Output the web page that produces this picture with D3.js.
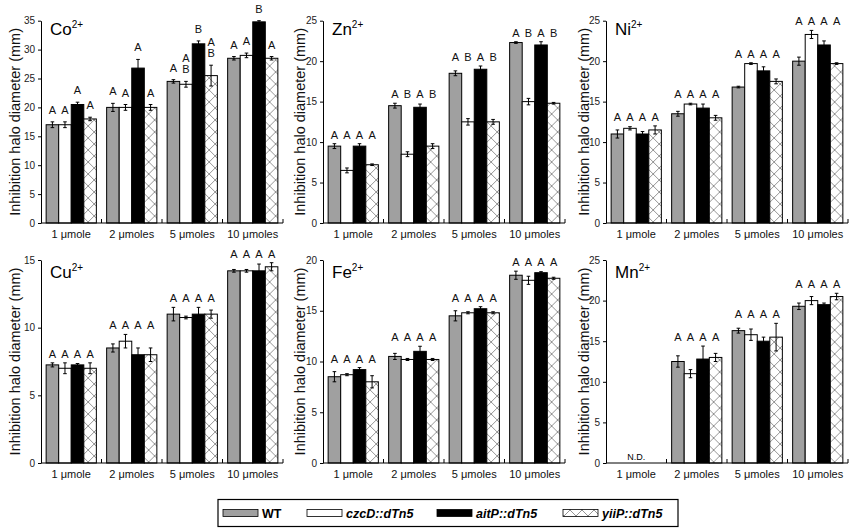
<!DOCTYPE html>
<html>
<head>
<meta charset="utf-8">
<script src="https://cdn.jsdelivr.net/npm/d3@7"></script>
<style>
  body { margin: 0; background: #fff; }
  svg { display: block; font-family: Arial, "Liberation Sans", sans-serif; }
</style>
</head>
<body>
<div id="chart"></div>
<script>
// categories and series
var doses = ["1 \u03bcmole", "2 \u03bcmoles", "5 \u03bcmoles", "10 \u03bcmoles"];
var strains = ["WT", "czcD::dTn5", "aitP::dTn5", "yiiP::dTn5"];
var ions = ["Co", "Zn", "Ni", "Cu", "Fe", "Mn"];
var yMaxes = [35, 25, 25, 15, 20, 25];

// means per dose (rows) x strain (columns), mm
var coMeans = [[17.0, 17.0, 20.5, 18.0], [20.0, 20.0, 26.8, 20.0], [24.5, 24.0, 31.0, 25.5], [28.5, 29.0, 34.8, 28.5]];
var coErr   = [[0.5, 0.5, 0.4, 0.3], [0.7, 0.5, 1.5, 0.5], [0.3, 0.5, 0.5, 1.8], [0.3, 0.4, 0.2, 0.3]];
var coSig   = [["A", "A", "A", "A"], ["A", "A", "A", "A"], ["A", "A/B", "B", "A/B"], ["A", "A", "B", "A"]];

var znMeans = [[9.5, 6.5, 9.5, 7.2], [14.5, 8.5, 14.3, 9.5], [18.5, 12.5, 19.0, 12.5], [22.3, 15.0, 22.0, 14.8]];
var znErr   = [[0.3, 0.3, 0.3, 0.1], [0.3, 0.3, 0.4, 0.3], [0.3, 0.4, 0.4, 0.3], [0.1, 0.4, 0.4, 0.1]];
var znSig   = [["A", "A", "A", "A"], ["A", "B", "A", "B"], ["A", "B", "A", "B"], ["A", "B", "A", "B"]];

var niMeans = [[11.0, 11.7, 11.0, 11.5], [13.5, 14.7, 14.2, 13.0], [16.8, 19.7, 18.8, 17.5], [20.0, 23.3, 22.0, 19.7]];
var niErr   = [[0.5, 0.2, 0.3, 0.5], [0.3, 0.1, 0.5, 0.3], [0.1, 0.1, 0.5, 0.3], [0.5, 0.5, 0.5, 0.1]];
var niSig   = [["A", "A", "A", "A"], ["A", "A", "A", "A"], ["A", "A", "A", "A"], ["A", "A", "A", "A"]];

var cuMeans = [[7.25, 7.0, 7.25, 7.0], [8.5, 9.0, 8.0, 8.0], [11.0, 10.75, 11.0, 11.0], [14.2, 14.2, 14.2, 14.5]];
var cuErr   = [[0.15, 0.4, 0.1, 0.4], [0.3, 0.5, 0.5, 0.5], [0.5, 0.1, 0.5, 0.3], [0.1, 0.1, 0.5, 0.3]];
var cuSig   = [["A", "A", "A", "A"], ["A", "A", "A", "A"], ["A", "A", "A", "A"], ["A", "A", "A", "A"]];

var feMeans = [[8.5, 8.7, 9.2, 8.0], [10.5, 10.2, 11.0, 10.2], [14.5, 14.8, 15.2, 14.8], [18.5, 18.0, 18.75, 18.2]];
var feErr   = [[0.5, 0.1, 0.2, 0.6], [0.3, 0.1, 0.5, 0.1], [0.5, 0.1, 0.2, 0.1], [0.4, 0.4, 0.1, 0.1]];
var feSig   = [["A", "A", "A", "A"], ["A", "A", "A", "A"], ["A", "A", "A", "A"], ["A", "A", "A", "A"]];

var mnMeans = [[null, null, null, null], [12.5, 11.0, 12.8, 13.0], [16.3, 15.8, 15.0, 15.5], [19.3, 20.0, 19.5, 20.5]];
var mnErr   = [[0, 0, 0, 0], [0.7, 0.5, 1.6, 0.5], [0.3, 0.7, 0.5, 1.7], [0.4, 0.5, 0.2, 0.4]];
var mnSig   = [[null, null, null, null], ["A", "A", "A", "A"], ["A", "A", "A", "A"], ["A", "A", "A", "A"]];

var allMeans = [coMeans, znMeans, niMeans, cuMeans, feMeans, mnMeans];
var allErr = [coErr, znErr, niErr, cuErr, feErr, mnErr];
var allSig = [coSig, znSig, niSig, cuSig, feSig, mnSig];

// layout
var svgWidth = 856, svgHeight = 529;
var colX = [41, 323, 606];
var labelOff = [21.5, 18, 17];
var rowTop = [20.7, 260];
var rowZero = [223, 463];
var ionBase = [35, 278];
var plotW = 242;
var fills = ["#a0a0a0", "#ffffff", "#000000", "url(#xhatch)"];

var svg = d3.select("#chart")
  .append("svg")
  .attr("width", svgWidth)
  .attr("height", svgHeight);

var pat = svg.append("defs").append("pattern")
  .attr("id", "xhatch")
  .attr("patternUnits", "userSpaceOnUse")
  .attr("width", 12)
  .attr("height", 12);
pat.append("rect").attr("width", 12).attr("height", 12).attr("fill", "#fff");
pat.append("path")
  .attr("d", "M0,0L12,12M12,0L0,12")
  .attr("stroke", "#7a7a7a")
  .attr("stroke-width", 0.8);

ions.forEach(function(ion, p) {
  var col = p % 3, row = Math.floor(p / 3);
  var x0 = colX[col], top = rowTop[row], zero = rowZero[row];
  var means = allMeans[p], errs = allErr[p], sig = allSig[p];
  var g = svg.append("g");

  var y = d3.scaleLinear().domain([0, yMaxes[p]]).range([zero, top]);
  var xb = d3.scaleBand().domain(doses).range([x0, x0 + plotW])
    .paddingInner(0.17).paddingOuter(0.085);
  var xs = d3.scaleBand().domain(strains).range([0, xb.bandwidth()]);

  // y axis
  var yAxis = g.append("g")
    .attr("transform", `translate(${x0},0)`)
    .call(d3.axisLeft(y).tickValues(d3.range(0, yMaxes[p] + 1, 5)).tickSize(3).tickSizeOuter(0));
  yAxis.selectAll("text").attr("font-size", "10px").attr("fill", "#222").attr("font-family", "Arial, Liberation Sans, sans-serif");
  yAxis.select(".domain").attr("stroke", "#000");

  // y label
  g.append("text")
    .attr("transform", `translate(${x0 - labelOff[col]},${(top + zero) / 2}) rotate(-90)`)
    .attr("text-anchor", "middle")
    .attr("font-size", "14.5px")
    .attr("fill", "#111")
    .text("Inhibition halo diameter (mm)");

  // ion label
  var ionText = g.append("text")
    .attr("x", x0 + 9)
    .attr("y", ionBase[row])
    .attr("font-size", "17px")
    .attr("fill", "#000");
  ionText.append("tspan").text(ion);
  ionText.append("tspan").attr("font-size", "10px").attr("dy", -7).text("2+");

  // bars
  doses.forEach(function(dose, i) {
    var grp = g.append("g").attr("transform", `translate(${xb(dose)},0)`);
    strains.forEach(function(s, j) {
      var m = means[i][j];
      if (m === null) return;
      grp.append("rect")
        .attr("x", xs(s))
        .attr("y", y(m))
        .attr("width", xs.bandwidth())
        .attr("height", zero - y(m))
        .attr("fill", fills[j])
        .attr("stroke", "#000")
        .attr("stroke-width", 1);
      var cx = xs(s) + xs.bandwidth() / 2;
      var e = errs[i][j];
      grp.append("path")
        .attr("d", `M${cx},${y(m - e)}V${y(m + e)}M${cx - 1.8},${y(m - e)}h3.6M${cx - 1.8},${y(m + e)}h3.6`)
        .attr("stroke", "#000")
        .attr("stroke-width", 1)
        .attr("fill", "none");
    });

    // significance letters
    if (means[i][0] === null) {
      grp.append("text")
        .attr("x", xb.bandwidth() / 2)
        .attr("y", zero - 3)
        .attr("text-anchor", "middle")
        .attr("font-size", "9px")
        .text("N.D.");
      return;
    }
    var groupTop = d3.max(strains, (s, j) => means[i][j] + errs[i][j]);
    strains.forEach(function(s, j) {
      var lines = sig[i][j].split("/");
      var base = p === 0 ? y(means[i][j] + errs[i][j]) - 8 : y(groupTop) - 5;
      lines.forEach(function(t, k) {
        grp.append("text")
          .attr("x", xs(s) + xs.bandwidth() / 2)
          .attr("y", base - (lines.length - 1 - k) * 11)
          .attr("text-anchor", "middle")
          .attr("font-size", "11px")
          .attr("fill", "#111")
          .text(t);
      });
    });
  });

  // x axis line with inward separator ticks
  g.append("line")
    .attr("x1", x0).attr("x2", x0 + plotW)
    .attr("y1", zero).attr("y2", zero)
    .attr("stroke", "#000");
  g.selectAll(".sep")
    .data(doses)
    .enter()
    .append("line")
    .attr("x1", d => xb(d) + xb.bandwidth() + xb.step() * 0.085)
    .attr("x2", d => xb(d) + xb.bandwidth() + xb.step() * 0.085)
    .attr("y1", zero).attr("y2", zero - 4)
    .attr("stroke", "#000");
  g.selectAll(".dose")
    .data(doses)
    .enter()
    .append("text")
    .attr("x", d => xb(d) + xb.bandwidth() / 2)
    .attr("y", zero + 15)
    .attr("text-anchor", "middle")
    .attr("font-size", "11px")
    .attr("fill", "#111")
    .text(d => d);
});

// legend
var legend = svg.append("g");
legend.append("rect")
  .attr("x", 218).attr("y", 499.5)
  .attr("width", 460).attr("height", 27)
  .attr("fill", "none")
  .attr("stroke", "#000")
  .attr("stroke-width", 1.2);
var legX = [223, 307, 437, 563];
strains.forEach(function(s, j) {
  legend.append("rect")
    .attr("x", legX[j]).attr("y", 509.5)
    .attr("width", 35).attr("height", 7)
    .attr("fill", fills[j])
    .attr("stroke", "#000")
    .attr("stroke-width", 0.8);
  legend.append("text")
    .attr("x", legX[j] + 39)
    .attr("y", 517.5)
    .attr("font-size", "12.5px")
    .attr("font-weight", "bold")
    .attr("font-style", j === 0 ? "normal" : "italic")
    .text(s);
});
</script>
</body>
</html>
